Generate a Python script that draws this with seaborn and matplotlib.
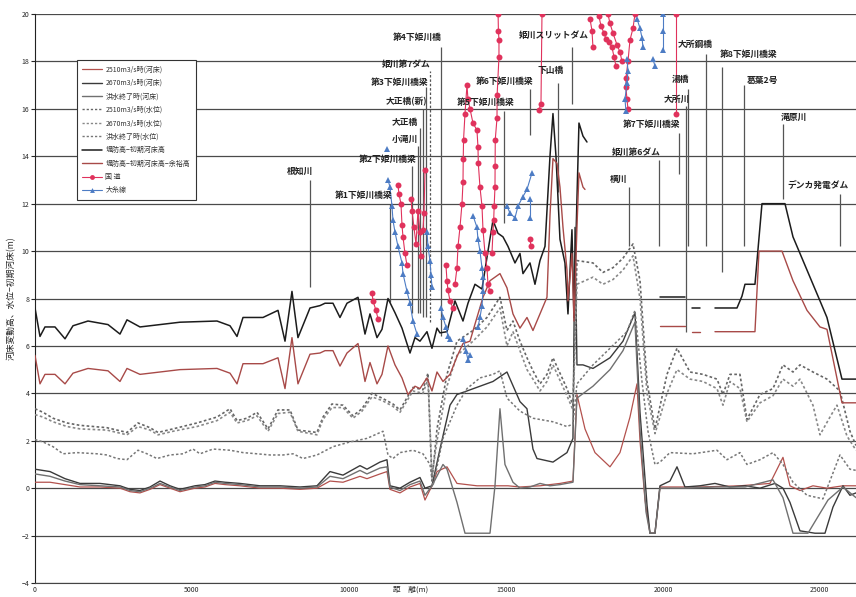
import matplotlib
matplotlib.use("Agg")
import matplotlib.pyplot as plt
from matplotlib.lines import Line2D
import seaborn as sns
import pandas as pd

sns.set_style("white")
plt.rcParams['font.family'] = ['Noto Sans CJK JP', 'DejaVu Sans']

# ---------------- data (distance [m], value [m]) ----------------
levee = [  # 堤防高-初期河床高
    [(0, 7.6), (159, 6.4), (318, 6.8), (637, 6.8), (956, 6.3), (1210, 6.85), (1688, 7.05), (2325, 6.9),
     (2707, 6.5), (2930, 7.1), (3344, 6.8), (3663, 6.85), (4618, 7.0), (5797, 7.05), (6211, 6.85),
     (6434, 6.4), (6625, 7.2), (7262, 7.2), (7740, 7.5), (7963, 6.2), (8185, 8.3), (8376, 6.35),
     (8759, 7.6), (9077, 7.7), (9237, 7.8), (9491, 7.8), (9714, 7.2), (9937, 7.8), (10288, 8.05),
     (10511, 6.5), (10670, 7.35), (10893, 6.35), (11052, 6.7), (11243, 8.0), (11466, 7.4), (11689, 6.75),
     (11944, 5.7), (12103, 6.35), (12262, 6.2), (12485, 6.6), (12644, 5.9), (12804, 6.75), (12899, 6.55),
     (13122, 6.6), (13377, 7.9), (13632, 7.05), (13791, 7.8), (14014, 8.6), (14237, 8.4), (14428, 10.0),
     (14587, 11.3), (14747, 10.75), (14906, 10.6), (15065, 10.2), (15288, 9.5), (15447, 9.9), (15543, 9.05),
     (15766, 9.5), (15925, 8.6), (16084, 9.6), (16244, 10.2), (16403, 14.0), (16498, 15.8), (16594, 14.0),
     (16721, 10.5), (16880, 9.5), (16976, 7.35), (17103, 10.9), (17167, 7.2), (17262, 12.2), (17326, 15.4),
     (17454, 14.85), (17581, 14.6)],
    [(19906, 8.05), (20703, 8.05)],
    [(20925, 7.6), (21180, 7.6)],
    [(21658, 7.6), (22359, 7.6), (22518, 8.1), (22614, 8.6), (22932, 8.6), (23155, 12.0), (23888, 12.0),
     (24143, 10.6), (24589, 9.2), (25003, 7.9), (25225, 7.2), (25703, 4.6), (26150, 4.6)],
]
levee_free = [  # 堤防高-初期河床高-余裕高
    [(0, 5.6), (159, 4.4), (318, 4.8), (637, 4.8), (956, 4.4), (1210, 4.85), (1688, 5.05), (2325, 4.95),
     (2707, 4.5), (2930, 5.05), (3344, 4.8), (3663, 4.85), (4618, 5.0), (5797, 5.05), (6211, 4.85),
     (6434, 4.4), (6625, 5.25), (7262, 5.25), (7740, 5.5), (7963, 4.2), (8185, 6.35), (8376, 4.4),
     (8759, 5.65), (9077, 5.7), (9237, 5.8), (9491, 5.8), (9714, 5.15), (9937, 5.7), (10288, 6.1),
     (10511, 4.5), (10670, 5.3), (10893, 4.4), (11052, 4.8), (11243, 6.0), (11466, 5.2), (11689, 4.65),
     (11880, 3.95), (12103, 4.3), (12262, 4.2), (12485, 4.65), (12644, 4.1), (12804, 4.9), (12995, 4.5),
     (13218, 4.8), (13441, 5.55), (13632, 6.1), (13855, 6.2), (14077, 7.2), (14269, 8.05), (14492, 8.75),
     (14810, 9.05), (15033, 8.45), (15224, 7.35), (15447, 6.75), (15670, 7.2), (15861, 6.65), (16084, 7.35),
     (16307, 8.05), (16403, 11.5), (16498, 13.9), (16626, 13.7), (16721, 12.7), (16817, 11.0), (16944, 9.2),
     (16976, 7.9), (17103, 9.9), (17167, 7.05), (17262, 11.0), (17326, 13.3), (17454, 12.7), (17518, 12.6)],
    [(19906, 6.85), (20703, 6.85)],
    [(20925, 6.6), (21180, 6.6)],
    [(21658, 6.6), (22932, 6.6), (23060, 10.0), (23792, 10.0), (24143, 8.75), (24589, 7.5), (25003, 6.8),
     (25225, 6.7), (25703, 3.6), (26150, 3.6)],
]
wl_2510 = [[(0, 3.35), (255, 3.2), (573, 2.95), (1019, 2.75), (1433, 2.65), (2293, 2.55), (2930, 2.35),
            (3281, 2.75), (3663, 2.55), (3918, 2.35), (4395, 2.5), (5159, 2.75), (5797, 3.0), (6211, 3.35),
            (6434, 2.85), (6752, 2.95), (7071, 3.2), (7422, 2.5), (7740, 3.3), (8122, 3.3), (8376, 2.45),
            (8982, 2.35), (9173, 3.0), (9459, 3.55), (9810, 3.5), (10128, 3.05), (10415, 3.35), (10733, 4.0),
            (11052, 3.8), (11402, 3.55), (11625, 3.3), (12039, 4.25), (12357, 4.15), (12516, 4.85), (12644, 0.3),
            (12804, 2.5), (13122, 4.8), (13441, 6.2), (13950, 6.65), (14396, 7.2), (14810, 8.05), (15033, 6.65),
            (15224, 7.05), (15447, 6.2), (15670, 5.5), (15861, 4.95), (16084, 4.4), (16307, 4.8), (16498, 5.5),
            (16944, 4.2), (17135, 3.5), (17262, 9.6), (17772, 9.5), (18091, 9.1), (18410, 9.3), (18728, 9.7),
            (19047, 10.3), (19270, 8.75), (19493, 4.5), (19748, 2.5), (20130, 4.8), (20448, 5.9), (20862, 4.9),
            (21276, 4.8), (21722, 4.6), (21913, 3.95), (22136, 4.8), (22454, 4.8), (22677, 2.9), (23092, 3.95),
            (23506, 4.2), (23824, 5.2), (24143, 4.9), (24365, 5.2), (24779, 4.9), (25225, 4.6), (25639, 4.1),
            (25958, 2.4), (26150, 1.8)]]
wl_2670 = [[(0, 3.1), (255, 3.0), (573, 2.8), (1019, 2.6), (1433, 2.5), (2293, 2.45), (2930, 2.25),
            (3281, 2.6), (3663, 2.45), (3918, 2.25), (4395, 2.4), (5159, 2.6), (5797, 2.85), (6211, 3.2),
            (6434, 2.75), (6752, 2.85), (7071, 3.05), (7422, 2.4), (7740, 3.15), (8122, 3.2), (8376, 2.4),
            (8982, 2.25), (9173, 2.9), (9459, 3.4), (9810, 3.4), (10128, 2.95), (10415, 3.25), (10733, 3.85),
            (11052, 3.7), (11402, 3.45), (11625, 3.2), (12039, 4.1), (12357, 4.0), (12516, 4.6), (12644, 0.5),
            (12804, 2.0), (13122, 4.3), (13441, 5.6), (13950, 6.2), (14396, 6.8), (14810, 7.6), (15033, 6.0),
            (15224, 6.6), (15447, 5.8), (15670, 5.0), (15861, 4.6), (16084, 4.1), (16307, 4.5), (16498, 5.2),
            (16944, 3.9), (17135, 3.3), (17262, 8.6), (17772, 8.9), (18091, 8.6), (18410, 8.8), (18728, 9.2),
            (19047, 9.8), (19270, 8.0), (19493, 4.0), (19748, 2.3), (20130, 4.0), (20448, 5.0), (20862, 4.6),
            (21276, 4.5), (21722, 4.2), (21913, 3.5), (22136, 4.5), (22454, 4.2), (22677, 2.8), (23092, 3.6),
            (23506, 3.9), (23824, 4.6), (24143, 4.3), (24365, 4.6), (24779, 3.5), (25003, 2.25), (25321, 3.0),
            (25543, 3.5), (25862, 2.2), (26150, 1.6)]]
wl_end = [[(0, 2.05), (255, 1.95), (573, 1.75), (892, 1.45), (1338, 1.5), (1975, 1.45), (2293, 1.4),
           (2612, 1.25), (2930, 1.2), (3281, 1.6), (3567, 1.45), (3886, 1.25), (4300, 1.4), (4714, 1.45),
           (5032, 1.65), (5255, 1.45), (5669, 1.65), (6211, 1.6), (6625, 1.5), (7071, 1.45), (7485, 1.4),
           (7899, 1.4), (8217, 1.45), (8536, 1.25), (8982, 1.4), (9491, 1.75), (10033, 1.95), (10574, 2.1),
           (11084, 2.4), (11243, 1.4), (11402, 1.25), (11625, 1.5), (12039, 1.6), (12357, 1.45), (12580, 1.0),
           (12676, 0.1), (12995, 2.1), (13441, 3.5), (13759, 4.2), (14173, 4.65), (14587, 4.8), (14810, 4.95),
           (15033, 3.8), (15447, 3.25), (15861, 2.95), (16498, 2.8), (16944, 2.6), (17135, 2.7), (17262, 4.4),
           (17772, 5.2), (18314, 5.9), (18855, 6.6), (19110, 7.5), (19333, 4.5), (19524, 2.4), (19747, 1.0),
           (19906, 1.1), (20224, 1.5), (20957, 1.45), (21722, 1.6), (22040, 1.2), (22454, 1.5), (22677, 1.0),
           (23092, 1.2), (23506, 1.5), (23824, 1.0), (24143, 0.25), (24589, -0.3), (25098, -0.45), (25639, 1.4),
           (25958, 0.8), (26150, 0.75)]]
bed_2510 = [[(0, 0.25), (478, 0.25), (956, 0.15), (1433, 0.05), (2070, 0.05), (2707, 0.0), (3026, -0.15),
             (3344, -0.2), (3663, -0.05), (3981, 0.15), (4300, 0.0), (4618, -0.15), (5096, 0.0), (5414, 0.05),
             (5733, 0.2), (6051, 0.15), (6529, 0.1), (7166, 0.0), (7803, 0.0), (8440, -0.05), (8982, 0.0),
             (9396, 0.3), (9810, 0.25), (10351, 0.5), (10574, 0.4), (10988, 0.6), (11211, 0.7), (11306, -0.05),
             (11625, -0.2), (11944, 0.05), (12262, 0.2), (12421, -0.5), (12644, 0.1), (12804, 0.7), (13122, 0.9),
             (13441, 0.2), (14077, 0.1), (15065, 0.1), (15447, 0.05), (16084, 0.1), (16721, 0.2), (17135, 0.3),
             (17262, 3.95), (17518, 2.5), (17836, 1.5), (18314, 0.9), (18632, 1.5), (18951, 3.0), (19174, 4.4),
             (19270, 2.0), (19429, -0.5), (19588, -1.9), (19747, -1.9), (19906, 0.05), (21180, 0.05),
             (22454, 0.1), (23410, 0.2), (23824, 1.3), (24047, 0.1), (24365, -0.1), (24779, 0.1), (25225, 0.0),
             (25735, 0.1), (26150, 0.1)]]
bed_2670 = [[(0, 0.8), (478, 0.7), (956, 0.4), (1433, 0.2), (2070, 0.2), (2707, 0.1), (3026, -0.05),
             (3344, -0.1), (3663, 0.05), (3981, 0.3), (4300, 0.1), (4618, -0.05), (5096, 0.1), (5414, 0.15),
             (5733, 0.3), (6051, 0.25), (6529, 0.2), (7166, 0.1), (7803, 0.1), (8440, 0.05), (8982, 0.1),
             (9396, 0.7), (9810, 0.55), (10351, 0.95), (10574, 0.8), (10988, 1.1), (11211, 1.2), (11306, 0.1),
             (11625, 0.0), (11944, 0.25), (12262, 0.45), (12421, 0.0), (12644, 0.1), (12899, 1.65), (13218, 3.5),
             (13441, 3.95), (13759, 4.1), (14587, 4.5), (15033, 4.9), (15447, 3.65), (15670, 3.35), (15861, 1.65),
             (15989, 1.25), (16498, 1.1), (16944, 1.5), (17135, 2.1), (17199, 11.0), (17262, 5.2), (17454, 5.2),
             (17772, 5.05), (18314, 5.5), (18728, 6.2), (19110, 7.4), (19270, 3.2), (19493, -0.7), (19588, -1.9),
             (19747, -1.9), (19906, 0.1), (20224, 0.3), (20448, 0.9), (20703, 0.05), (21180, 0.1), (21658, 0.2),
             (22136, 0.05), (22614, 0.1), (23092, 0.0), (23570, 0.2), (23824, 0.0), (24047, -0.6), (24365, -1.8),
             (24843, -1.9), (25162, -1.9), (25416, -0.8), (25735, 0.1), (25958, -0.3), (26150, -0.2)]]
bed_end = [[(0, 0.6), (478, 0.5), (956, 0.3), (1433, 0.15), (2070, 0.1), (2707, 0.05), (3026, -0.1),
            (3344, -0.15), (3663, 0.0), (3981, 0.2), (4300, 0.05), (4618, -0.1), (5096, 0.05), (5414, 0.1),
            (5733, 0.25), (6051, 0.2), (6529, 0.15), (7166, 0.05), (7803, 0.05), (8440, 0.0), (8982, 0.05),
            (9396, 0.5), (9810, 0.4), (10351, 0.75), (10574, 0.6), (10988, 0.85), (11211, 0.9), (11306, 0.05),
            (11625, -0.1), (11944, 0.15), (12262, 0.3), (12421, -0.3), (12644, 0.1), (12995, 1.0), (13122, 0.8),
            (13441, -0.6), (13696, -1.9), (14492, -1.9), (14651, 0.1), (14810, 3.35), (14969, 1.0), (15224, 0.25),
            (15447, 0.0), (15766, 0.05), (16084, 0.2), (16403, 0.1), (16721, 0.15), (17135, 0.25), (17262, 3.8),
            (17772, 4.3), (18314, 5.0), (18728, 5.8), (19110, 7.0), (19270, 2.5), (19461, -1.0), (19588, -1.9),
            (19747, -1.9), (19906, 0.0), (20703, 0.0), (21658, 0.05), (22614, 0.05), (23506, 0.35),
            (23824, -0.4), (24143, -1.9), (24620, -1.9), (25258, -0.5), (25735, 0.05), (26150, -0.4)]]
road = [  # 国道
    [(10733, 8.25), (10765, 7.9), (10861, 7.5), (10924, 7.15)],
    [(11561, 12.8), (11593, 12.4), (11657, 12.0), (11689, 11.1), (11721, 10.6), (11784, 9.9), (11848, 9.4)],
    [(11976, 12.2), (12008, 11.7), (12071, 11.0), (12135, 10.3), (12198, 11.7), (12262, 10.8), (12294, 9.8)],
    [(12422, 13.4), (12390, 11.6), (12358, 10.9)],
    [(13090, 9.4), (13122, 8.75), (13154, 8.35), (13218, 7.9), (13313, 7.6)],
    [(13377, 8.6), (13441, 9.3), (13473, 10.2), (13536, 11.0), (13600, 12.0), (13632, 12.9), (13640, 13.9),
     (13650, 14.7), (13696, 15.8), (13759, 17.0), (13791, 16.4), (13855, 16.0), (13950, 15.4), (14077, 15.1),
     (14109, 14.4), (14120, 13.7), (14173, 12.7), (14237, 11.9), (14269, 10.9), (14333, 9.9), (14396, 9.3),
     (14428, 8.6), (14492, 8.3)],
    [(14555, 9.9), (14587, 10.8), (14610, 11.3), (14625, 11.9), (14651, 12.7), (14655, 13.6), (14660, 14.7),
     (14715, 15.6), (14720, 16.6), (14778, 18.2), (14778, 18.9), (14760, 19.3), (14750, 20.0)],
    [(15766, 10.5), (15798, 10.2)],
    [(16148, 20.0), (16116, 16.2), (16052, 15.95)],
    [(17677, 19.8), (17740, 19.3), (17772, 18.6)],
    [(17963, 19.9), (18027, 19.5), (18123, 19.2), (18186, 18.95), (18282, 18.8), (18377, 18.6), (18441, 18.2),
     (18505, 17.8)],
    [(18250, 20.0), (18314, 19.6), (18409, 19.2), (18537, 18.7), (18632, 18.4), (18696, 18.0)],
    [(19110, 20.0), (19047, 19.4), (18951, 18.9), (18887, 18.0), (18823, 17.3), (18823, 16.9), (18855, 16.4),
     (18887, 16.0)],
    [(20416, 20.0), (20416, 15.8)],
]
rail = [  # 大糸線
    [(11211, 14.3)],
    [(11243, 13.0), (11307, 12.7), (11370, 11.9), (11402, 11.3), (11466, 10.8), (11561, 10.2), (11689, 9.5),
     (11721, 9.05), (11848, 8.3), (11944, 7.8), (12039, 7.05), (12167, 6.5)],
    [(12485, 10.8), (12517, 10.2), (12580, 9.6), (12612, 9.0), (12644, 8.5)],
    [(12931, 7.6), (12995, 7.2), (13090, 6.8), (13154, 6.4), (13218, 6.3)],
    [(13632, 6.3), (13727, 5.8), (13791, 5.4), (13855, 5.6)],
    [(13950, 11.5), (14077, 11.0), (14109, 10.5), (14173, 10.0), (14237, 9.3), (14269, 8.9), (14269, 8.3),
     (14237, 7.7), (14173, 7.2), (14109, 6.8)],
    [(15033, 11.9), (15129, 11.6), (15288, 11.4), (15384, 11.9), (15543, 12.3), (15670, 12.6), (15830, 13.3)],
    [(15766, 12.2), (15766, 11.4)],
    [(18855, 18.1), (18887, 17.6), (18855, 17.1), (18792, 16.4), (18823, 15.9)],
    [(19174, 19.8), (19270, 19.4), (19333, 19.0), (19365, 18.6)],
    [(19683, 18.1), (19747, 17.8)],
    [(20002, 20.0), (20002, 19.3), (20002, 18.5)],
]
# landmarks: name, label x, label y, line x, line top, line bottom
lm_names = ['根知川', '第1下姫川橋梁', '第2下姫川橋梁', '小滝川', '大正橋', '大正橋(新)', '第3下姫川橋梁',
            '姫川第7ダム', '第4下姫川橋', '第5下姫川橋梁', '第6下姫川橋梁', '姫川スリットダム', '下山橋',
            '大所鋼橋', '第8下姫川橋梁', '湯橋', '大所川', '第7下姫川橋梁', '姫川第6ダム', '横川',
            '葛葉2号', '滝原川', 'デンカ発電ダム']
lm_tx = [8440, 10479, 11243, 11784, 11784, 11816, 11625, 11816, 12167, 14364, 14969, 16530, 16435,
         21021, 22741, 20575, 20448, 19652, 19142, 18600, 23187, 24174, 24938]
lm_ty = [13.35, 12.36, 13.88, 14.73, 15.44, 16.29, 17.13, 17.89, 19.03, 16.29, 17.17, 19.11, 17.6,
         18.73, 18.31, 17.22, 16.41, 15.36, 14.18, 13.04, 17.22, 15.65, 12.78]
lm_lx = [8759, 11307, 12008, 12198, 12262, 12358, 12453, 12580, 12931, 14937, 15766, 17103, 16658,
         21372, 21881, 20798, 20734, 20511, 19874, 18919, 22582, 23824, 25639]
lm_top = [13.0, 12.0, 13.6, 14.45, 15.2, 16.0, 16.9, 17.6, 18.6, 15.9, 16.85, 18.6, 17.1,
          18.3, 17.75, 16.85, 16.1, 15.0, 13.85, 12.7, 17.0, 15.35, 12.4]
lm_bot = [8.5, 7.85, 7.4, 7.4, 7.4, 7.2, 7.2, 7.0, 6.4, 11.2, 14.9, 16.2, 12.5,
          10.2, 9.1, 10.2, 6.6, 13.25, 10.2, 10.2, 10.2, 12.2, 10.2]

x_ticks = [0, 5000, 10000, 15000, 20000, 25000]
y_ticks = list(range(-4, 21, 2))


def to_df(segments):
    rows = []
    for i, seg in enumerate(segments):
        for d, v in seg:
            rows.append({'dist': d, 'val': v, 'seg': i})
    return pd.DataFrame(rows)


fig = plt.figure(figsize=(8.56, 5.97), dpi=100)
ax = fig.add_axes([35 / 856, 1 - 583 / 597, 821 / 856, 569 / 597])

ax.set_xlim(0, 26150)
ax.set_ylim(-4, 20)
ax.set_yticks(y_ticks)
ax.set_xticks(x_ticks)
ax.yaxis.grid(True, color='#4a4a4a', linewidth=0.9, zorder=0)
ax.xaxis.grid(False)
for s in ['top', 'right']:
    ax.spines[s].set_visible(False)
ax.spines['left'].set_color('#222')
ax.spines['bottom'].set_color('#444')
ax.tick_params(axis='y', length=3, width=0.8, labelsize=5, pad=1, left=True)
ax.tick_params(axis='x', length=0, labelsize=5, pad=2.5)

# landmark lines + labels
for n, tx, ty, lx, lt, lb in zip(lm_names, lm_tx, lm_ty, lm_lx, lm_top, lm_bot):
    ls = (0, (2, 1.5)) if n == '姫川第7ダム' else '-'
    ax.vlines(lx, lb, lt, colors='#555', linewidth=0.9, linestyles=ls, zorder=2)
    ax.text(tx, ty, n, fontsize=6.3, ha='center', va='center', color='#222', zorder=6,
            fontweight='bold')

styles = [
    (bed_2510, dict(color='#b3514d', linewidth=0.9)),
    (bed_2670, dict(color='#3a3a3a', linewidth=1.0)),
    (bed_end, dict(color='#707070', linewidth=1.0)),
    (wl_2510, dict(color='#666', linewidth=1.2, linestyle=(0, (1.6, 1.4)))),
    (wl_2670, dict(color='#888', linewidth=1.2, linestyle=(0, (1.6, 1.4)))),
    (wl_end, dict(color='#777', linewidth=1.1, linestyle=(0, (1.6, 1.4)))),
    (levee, dict(color='#1c1c1c', linewidth=1.1)),
    (levee_free, dict(color='#a84a48', linewidth=1.0)),
]
for segs, kw in styles:
    sns.lineplot(data=to_df(segs), x='dist', y='val', units='seg', estimator=None, sort=False,
                 ax=ax, legend=False, zorder=4, **kw)

sns.lineplot(data=to_df(road), x='dist', y='val', units='seg', estimator=None, sort=False, ax=ax,
             legend=False, color='#e0325c', linewidth=0.8, marker='o', markersize=4.3,
             markeredgewidth=0, zorder=5)
sns.lineplot(data=to_df(rail), x='dist', y='val', units='seg', estimator=None, sort=False, ax=ax,
             legend=False, color='#4d7cc4', linewidth=0.8, marker='^', markersize=4.5,
             markeredgewidth=0, zorder=5)

ax.set_xlabel('距　離(m)', fontsize=5.5)
ax.xaxis.set_label_coords(0.457, -0.004)
ax.set_ylabel('河床変動高、水位−初期河床(m)', fontsize=6.3, labelpad=4)

handles = [
    Line2D([], [], color='#b3514d', linewidth=0.9),
    Line2D([], [], color='#3a3a3a', linewidth=1.0),
    Line2D([], [], color='#707070', linewidth=1.0),
    Line2D([], [], color='#666', linewidth=1.0, linestyle=(0, (1.6, 1.4))),
    Line2D([], [], color='#888', linewidth=1.0, linestyle=(0, (1.6, 1.4))),
    Line2D([], [], color='#777', linewidth=1.0, linestyle=(0, (1.6, 1.4))),
    Line2D([], [], color='#1c1c1c', linewidth=1.1),
    Line2D([], [], color='#a84a48', linewidth=1.0),
    Line2D([], [], color='#e0325c', linewidth=0.8, marker='o', markersize=3.5, markeredgewidth=0),
    Line2D([], [], color='#4d7cc4', linewidth=0.8, marker='^', markersize=3.5, markeredgewidth=0),
]
labels = ['2510m3/s時(河床)', '2670m3/s時(河床)', '洪水終了時(河床)', '2510m3/s時(水位)',
          '2670m3/s時(水位)', '洪水終了時(水位)', '堤防高−初期河床高', '堤防高−初期河床高−余裕高',
          '国 道', '大糸線']
leg = ax.legend(handles, labels, loc='upper left', bbox_to_anchor=(0.051, 0.919), fontsize=5.0,
                frameon=True, fancybox=False, edgecolor='#333', framealpha=1, borderpad=0.8,
                labelspacing=0.78, handlelength=2.8, handletextpad=0.5, borderaxespad=0)
leg.get_frame().set_linewidth(0.8)
for t in leg.get_texts():
    t.set_color('#333')
leg.set_zorder(10)

fig.savefig('out.png', dpi=100)
